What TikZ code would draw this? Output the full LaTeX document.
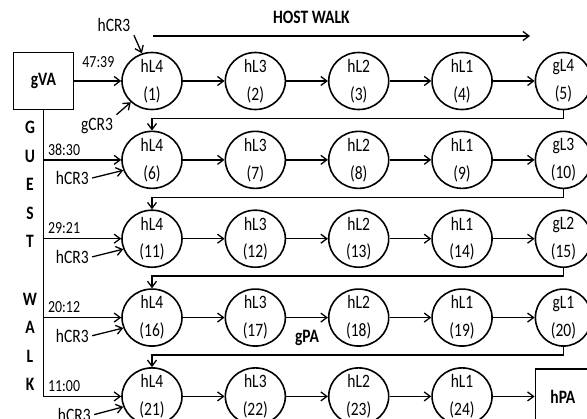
\documentclass[tikz,border=0pt]{standalone}
\usepackage{fontspec}
\setmainfont[FakeStretch=0.82]{Carlito}
\usetikzlibrary{arrows.meta,positioning,shapes.geometric}
\tikzset{hstate/.style={ellipse,draw,line width=1.6bp,minimum width=60bp,minimum height=57bp,inner sep=0pt},gstate/.style={hstate,minimum width=56bp},lines/.style={align=center,inner sep=0pt,font=\fontsize{19}{28}\selectfont,execute at begin node={\rule{0pt}{21bp}}},lv/.style n args={2}{label={[lines]center:#1\\(#2)}},addr/.style={draw,line width=1.6bp,minimum width=60bp,minimum height=57bp,font=\fontsize{19}{22}\selectfont\bfseries},bold/.style={font=\fontsize{19}{22}\selectfont\bfseries},walk/.style={align=center,font=\fontsize{19}{28.7}\selectfont\bfseries},tag/.style={font=\fontsize{17}{20}\selectfont,inner sep=1bp,yshift=3bp},flow/.style={-{Straight Barb[length=6bp,width=9bp]},line width=1.3bp},wire/.style={line width=1.3bp}}
\begin{document}
\begin{tikzpicture}[x=1bp,y=-1bp,node distance=20.25bp and 41.75bp,every node/.style={font=\fontsize{19}{22}\selectfont}]
      \useasboundingbox[fill=white](0,0)rectangle(587,418);
      % host walk rows
      \node[hstate,lv={hL4}{1}](n1)at(152,81){};
      \node[hstate,lv={hL3}{2},right=of n1](n2){};
      \node[hstate,lv={hL2}{3},right=of n2](n3){};
      \node[hstate,lv={hL1}{4},right=of n3](n4){};
      \node[gstate,lv={gL4}{5},right=of n4](n5){};
      \node[hstate,lv={hL4}{6},below=of n1](n6){};
      \node[hstate,lv={hL3}{7},right=of n6](n7){};
      \node[hstate,lv={hL2}{8},right=of n7](n8){};
      \node[hstate,lv={hL1}{9},right=of n8](n9){};
      \node[gstate,lv={gL3}{10},right=of n9](n10){};
      \node[hstate,lv={hL4}{11},below=of n6](n11){};
      \node[hstate,lv={hL3}{12},right=of n11](n12){};
      \node[hstate,lv={hL2}{13},right=of n12](n13){};
      \node[hstate,lv={hL1}{14},right=of n13](n14){};
      \node[gstate,lv={gL2}{15},right=of n14](n15){};
      \node[hstate,lv={hL4}{16},below=of n11](n16){};
      \node[hstate,lv={hL3}{17},right=of n16](n17){};
      \node[hstate,lv={hL2}{18},right=of n17](n18){};
      \node[hstate,lv={hL1}{19},right=of n18](n19){};
      \node[gstate,lv={gL1}{20},right=of n19](n20){};
      \node[hstate,lv={hL4}{21},below=of n16](n21){};
      \node[hstate,lv={hL3}{22},right=of n21](n22){};
      \node[hstate,lv={hL2}{23},right=of n22](n23){};
      \node[hstate,lv={hL1}{24},right=of n23](n24){};
      \node[addr,right=of n24,minimum width=55bp,minimum height=55bp](hpa){hPA};
      \node[addr,left=47bp of n1](gva){gVA};
      \draw[flow](n1)--(n2);\draw[flow](n2)--(n3);\draw[flow](n3)--(n4);\draw[flow](n4)--(n5);
      \draw[flow](n6)--(n7);\draw[flow](n7)--(n8);\draw[flow](n8)--(n9);\draw[flow](n9)--(n10);
      \draw[flow](n11)--(n12);\draw[flow](n12)--(n13);\draw[flow](n13)--(n14);\draw[flow](n14)--(n15);
      \draw[flow](n16)--(n17);\draw[flow](n17)--(n18)node[bold,midway,below=9bp]{gPA};\draw[flow](n18)--(n19);\draw[flow](n19)--(n20);
      \draw[flow](n21)--(n22);\draw[flow](n22)--(n23);\draw[flow](n23)--(n24);\draw[flow](n24)--(hpa);
      % row to row
      \draw[flow](n5.south)--++(0,8)-|(n6.north);
      \draw[flow](n10.south)--++(0,8)-|(n11.north);
      \draw[flow](n15.south)--++(0,8)-|(n16.north);
      \draw[flow](n20.south)--++(0,8)-|(n21.north);
      % guest walk
      \draw[wire](gva.south)--(gva.south|-n21.west);
      \draw[flow](gva)--(n1)node[tag,pos=0.14,anchor=south west,yshift=9bp]{47:39};
      \draw[flow](gva.south|-n6.west)--(n6.west)node[tag,pos=0.04,anchor=south west]{38:30};
      \draw[flow](gva.south|-n11.west)--(n11.west)node[tag,pos=0.04,anchor=south west]{29:21};
      \draw[flow](gva.south|-n16.west)--(n16.west)node[tag,pos=0.04,anchor=south west]{20:12};
      \draw[flow](gva.south|-n21.west)--(n21.west)node[tag,pos=0.04,anchor=south west]{11:00};
      \node[walk](gw)at(30,256){G\\U\\E\\S\\T\\[28.7bp]W\\A\\L\\K};
      % control registers
      \node(c1)at(114,25){hCR3};
      \node(gc1)at(97,126){gCR3};
      \node[below left=8bp and 29bp of n6.west](c6){hCR3};
      \node[below left=8bp and 29bp of n11.west](c11){hCR3};
      \node[below left=8bp and 29bp of n16.west](c16){hCR3};
      \node[below left=8bp and 27bp of n21.west](c21){hCR3};
      \draw[flow](c1.south east)--(n1.110);\draw[flow](gc1.north east)--(n1.225);
      \draw[flow](c6.east)--(n6.200);\draw[flow](c11.east)--(n11.200);\draw[flow](c16.east)--(n16.200);\draw[flow](c21.east)--(n21.200);
      % host walk direction
      \coordinate(hw0)at(153,36);\coordinate(hw1)at(530,36);
      \draw[flow](hw0)--(hw1)node[bold,pos=0.42,above=8bp]{HOST WALK};
    \end{tikzpicture}
\end{document}
